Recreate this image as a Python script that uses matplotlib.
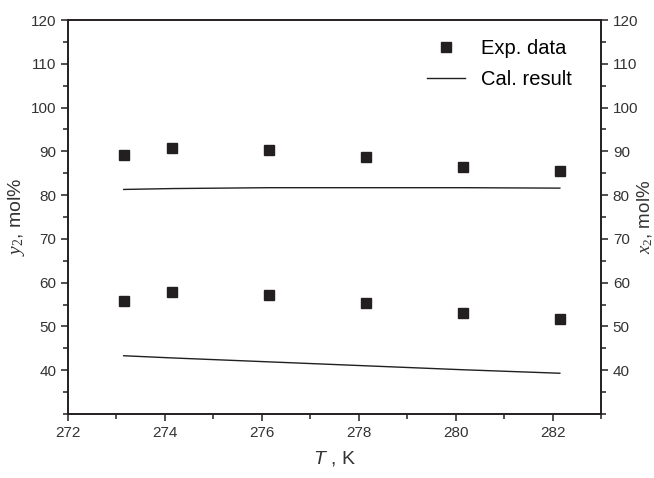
import matplotlib
matplotlib.use("Agg")
import matplotlib.pyplot as plt
from matplotlib.ticker import MultipleLocator

plt.rcParams['font.family'] = ['Liberation Sans', 'DejaVu Sans']
plt.rcParams['mathtext.fontset'] = 'custom'
plt.rcParams['mathtext.it'] = 'Liberation Serif:italic'
plt.rcParams['mathtext.rm'] = 'Liberation Serif'
plt.rcParams['mathtext.sf'] = 'Liberation Sans:italic'

# 数据
T = [273.15, 274.15, 276.15, 278.15, 280.15, 282.15]
exp_upper = [89.1, 90.7, 90.4, 88.7, 86.5, 85.6]
exp_lower = [55.8, 57.9, 57.2, 55.3, 53.0, 51.6]
cal_upper = [81.3, 81.5, 81.7, 81.7, 81.7, 81.6]
cal_lower = [43.3, 42.8, 41.9, 41.0, 40.1, 39.3]

dark = '#231f20'
txt = '#333333'

fig = plt.figure(figsize=(6.54, 4.78), dpi=100)
ax = fig.add_axes([0.104, 0.134, 0.815, 0.824])

ax.plot(T, exp_upper, 's', color=dark, markersize=6.5, label='Exp. data')
ax.plot(T, exp_lower, 's', color=dark, markersize=6.5)
ax.plot(T, cal_upper, '-', color=dark, linewidth=1.0, label='Cal. result')
ax.plot(T, cal_lower, '-', color=dark, linewidth=1.0)

ax.set_xlim(272, 283)
ax.set_ylim(30, 120)
ax.xaxis.set_major_locator(MultipleLocator(2))
ax.xaxis.set_minor_locator(MultipleLocator(1))
ax.yaxis.set_minor_locator(MultipleLocator(5))
ax.set_yticks(range(40, 121, 10))

for s in ax.spines.values():
    s.set_linewidth(1.2)
    s.set_color(dark)
ax.tick_params(which='major', direction='out', length=5, width=1.1, labelsize=11, colors=dark, labelcolor=txt)
ax.tick_params(which='minor', direction='out', length=3.5, width=1.1, colors=dark)

ax2 = ax.twinx()
ax2.set_ylim(ax.get_ylim())
ax2.yaxis.set_minor_locator(MultipleLocator(5))
ax2.set_yticks(range(40, 121, 10))
ax2.tick_params(which='major', direction='out', length=5, width=1.1, labelsize=11, colors=dark, labelcolor=txt)
ax2.tick_params(which='minor', direction='out', length=3.5, width=1.1, colors=dark)
for s in ax2.spines.values():
    s.set_linewidth(1.2)
    s.set_color(dark)

ax.set_xlabel(r'$\mathsf{T}$ , K', fontsize=14, color=txt, labelpad=7)
ax.set_ylabel(r'$y_{2}$, mol%', fontsize=14, color=txt, labelpad=3)
ax2.set_ylabel(r'$x_{2}$, mol%', fontsize=13.5, color=txt, labelpad=-2)

ax.legend(loc='upper right', bbox_to_anchor=(0.946, 0.952), frameon=False,
          fontsize=14.5, handlelength=1.9, handletextpad=0.8, borderaxespad=0,
          borderpad=0, labelspacing=0.6)

fig.savefig('out.png', dpi=100)
